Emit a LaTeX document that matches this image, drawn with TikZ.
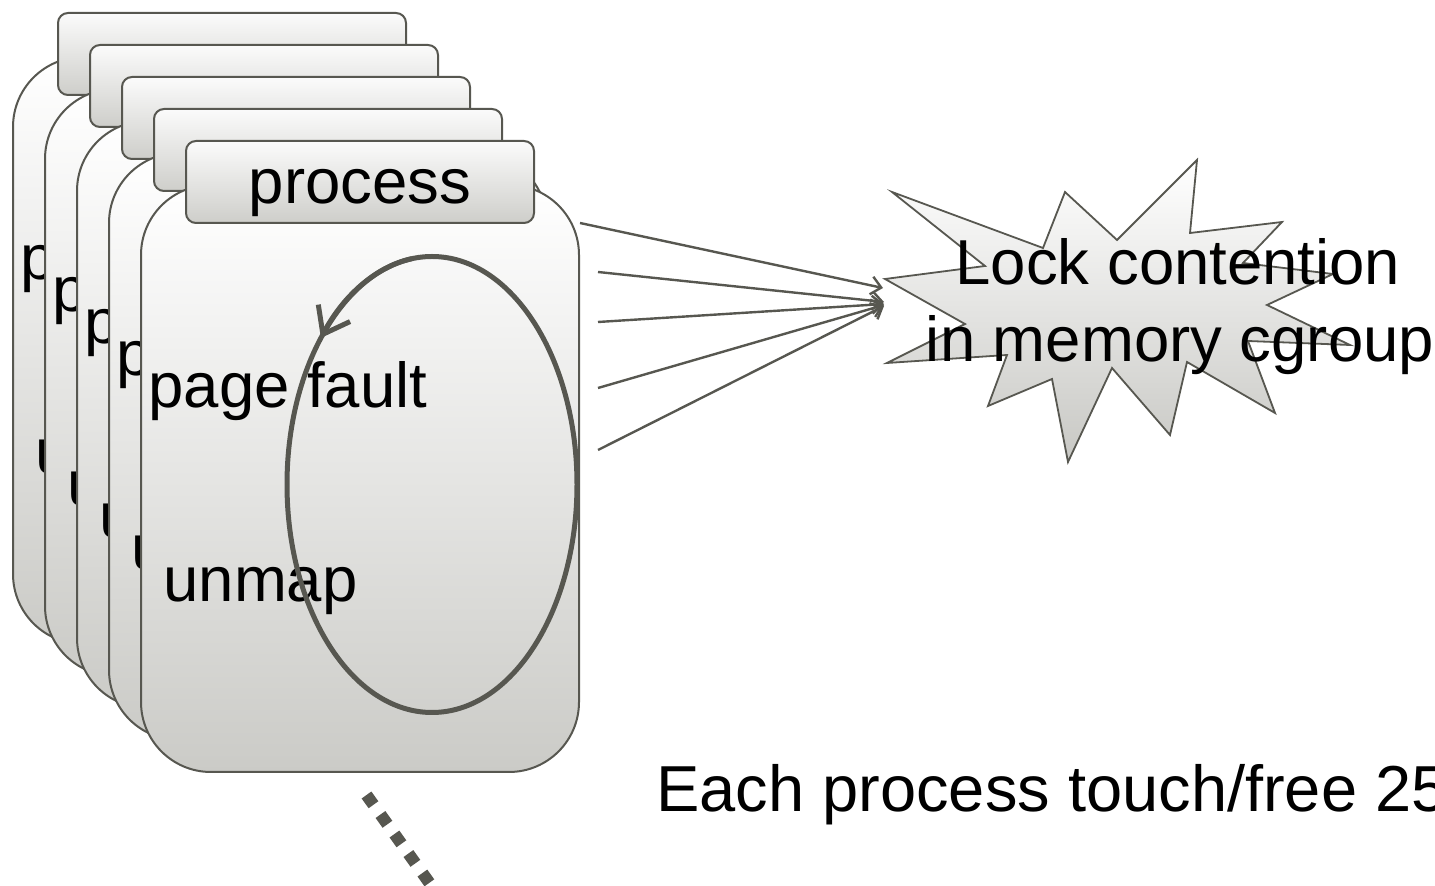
\documentclass[tikz,border=0pt]{standalone}
\usepackage{fontspec}
\setmainfont{Liberation Sans}
\usetikzlibrary{arrows.meta}

\definecolor{ink}{RGB}{87,87,80}
\definecolor{bodybot}{RGB}{203,203,199}
\definecolor{tabtop}{RGB}{251,251,251}
\definecolor{tabbot}{RGB}{206,206,202}
\definecolor{burstbot}{RGB}{200,200,196}

\begin{document}
\begin{tikzpicture}[x=0.5pt, y=-0.5pt,
  lbl/.style={font=\fontsize{31.75}{38}\selectfont, inner sep=0pt, anchor=base west},
  cardbody/.style={draw=ink, line width=1pt, rounded corners=35pt, top color=white, bottom color=bodybot},
  cardtab/.style={draw=ink, line width=1pt, rounded corners=5pt, top color=tabtop, bottom color=tabbot},
  cycleline/.style={draw=ink, line width=2.5pt},
  feed/.style={draw=ink, line width=1.2pt, -{Straight Barb[length=5pt,width=9pt]}},
  burst/.style={draw=ink, line width=0.9pt, top color=white, bottom color=burstbot},
  dots/.style={draw=ink, line width=6pt, dash pattern=on 6pt off 6pt},
]
\useasboundingbox (0,0) rectangle (1435,886);

% stack of process cards, back to front; only the front tab carries its title
\foreach \k in {0,...,4}{
  \begin{scope}[shift={({13+32*\k},{13+32*\k})}]
    \path[cardbody] (0,44) rectangle (438,631);
    \path[cardtab] (45,0) rectangle (393,82);
    \node[lbl] (pf\k) at (7,267) {page fault};
    \node[lbl] (um\k) at (22,461) {unmap};
    \coordinate (ell\k) at (291,343.5);
    \path[cycleline] (ell\k) ellipse [x radius=145, y radius=228];
    \path[cycleline, -{Straight Barb[length=12pt,width=18pt]}]
      ([shift={(262:145 and 228)}]ell\k) arc[start angle=262, end angle=220, x radius=145, y radius=228];
  \end{scope}
}
\node[lbl, anchor=base] (title) at (360,204) {process};

% lock contention burst
\path[burst] (885,279) -- (985,266) -- (892,192) -- (1043,248) -- (1065,192)
  -- (1117,240) -- (1197,160) -- (1190,233) -- (1282,222) -- (1243,263)
  -- (1333,274) -- (1267,305) -- (1350,345) -- (1248,341) -- (1275,413)
  -- (1187,362) -- (1170,435) -- (1112,368) -- (1068,462) -- (1052,379)
  -- (988,406) -- (1007,355) -- (887,363) -- (965,324) -- cycle;
\node[lbl, anchor=base] (lockA) at (1178,285) {Lock contention};
\node[lbl, anchor=base] (lockB) at (1180,362) {in memory cgroup};

% arrows from the process to the contention point
\coordinate (s1) at (580,223);
\coordinate (s2) at (598,272);
\coordinate (s3) at (598,322);
\coordinate (s4) at (598,388);
\coordinate (s5) at (598,450);
\coordinate (t1) at (883,288);
\coordinate (t2) at (884,302);
\coordinate (t3) at (884,304);
\coordinate (t4) at (884,305);
\coordinate (t5) at (884,306);
\foreach \i in {1,...,5}{
  \draw[feed] (s\i) -- (t\i);
}

% continuation marks below the stack
\coordinate (dotA) at (366.5,795);
\coordinate (dotB) at (429.5,883);
\draw[dots] (dotA) -- (dotB);

\node[lbl, font=\fontsize{32.5}{39}\selectfont] (note) at (656,812) {Each process touch/free 25};
\end{tikzpicture}
\end{document}
